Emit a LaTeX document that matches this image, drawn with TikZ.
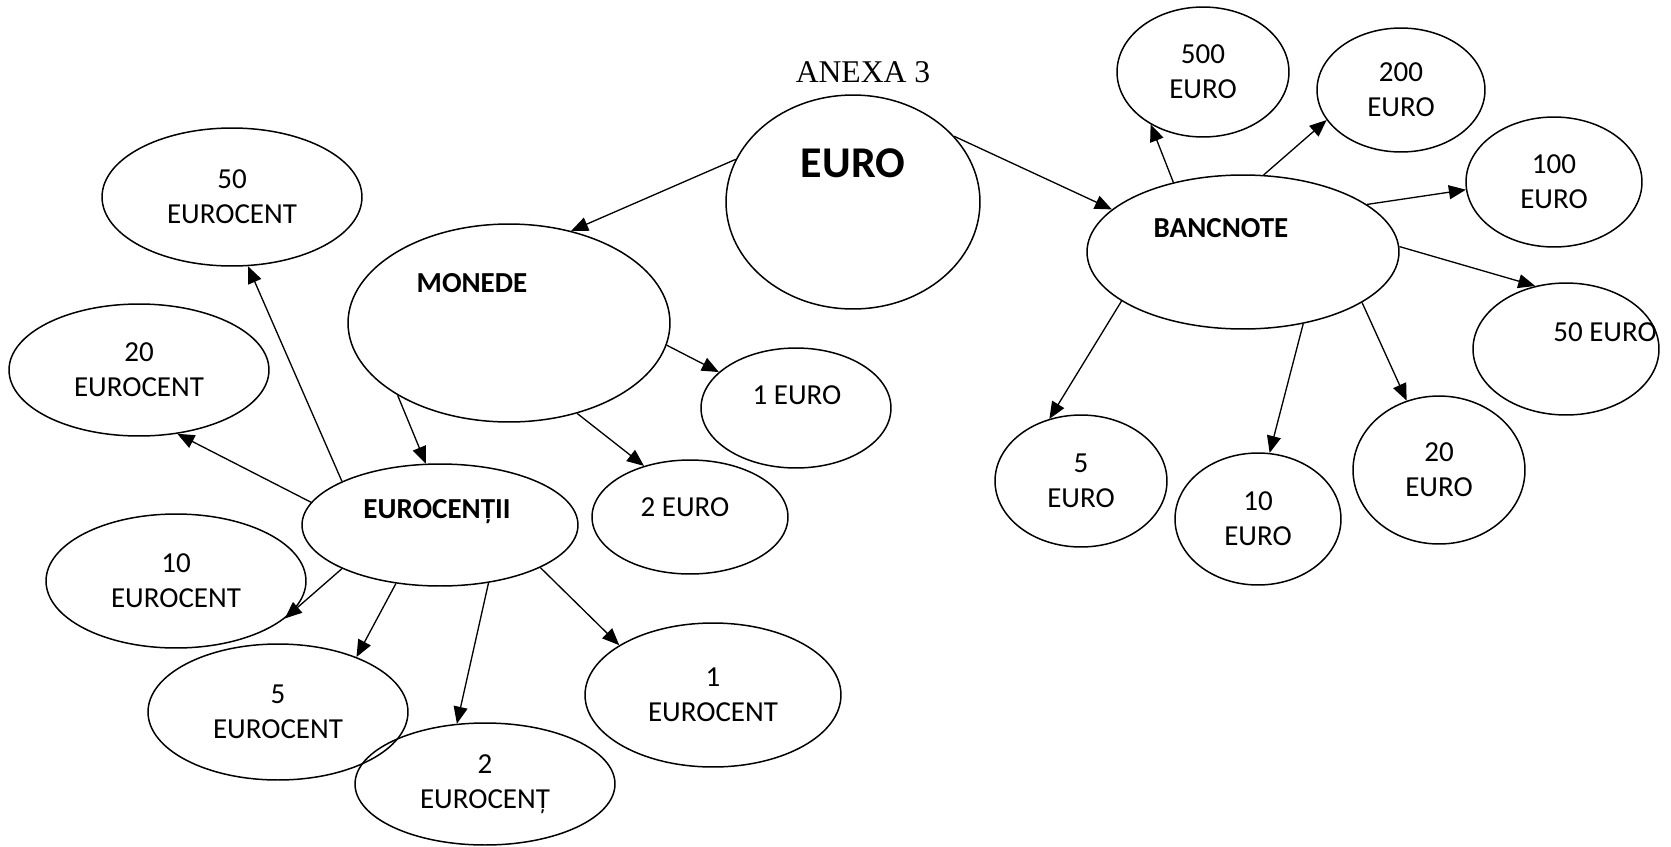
\documentclass[tikz,border=0pt]{standalone}
\usepackage{fontspec}
\setmainfont{Carlito}
\newfontfamily\anexafont{Liberation Serif}
\usetikzlibrary{shapes.geometric,arrows.meta}
\tikzset{
  oval/.style={draw, ellipse, line width=0.85pt, inner sep=0pt, align=center,
    font=\fontsize{16.5}{20}\selectfont},
  txt/.style={inner sep=0pt, font=\fontsize{16.5}{20}\selectfont},
  head/.style={inner sep=0pt, font=\fontsize{16.5}{20}\selectfont\bfseries},
}
\begin{document}
\begin{tikzpicture}[x=0.02cm, y=-0.02cm]
  \useasboundingbox (0,0) rectangle (1671,846);
  \node[inner sep=0pt, font=\anexafont\fontsize{18}{22}\selectfont] (anexa) at (863,72) {ANEXA 3};
  % centre
  \node[oval, minimum width=5.08cm, minimum height=4.28cm] (euro) at (853,202) {};
  \node[inner sep=0pt, font=\fontsize{25}{30}\selectfont\bfseries] (eurotxt) at (853,163) {EURO};
  \node[oval, minimum width=6.44cm, minimum height=3.96cm] (monede) at (509,323) {};
  \node[head] (monedetxt) at (472,283) {MONEDE};
  \node[oval, minimum width=6.24cm, minimum height=3.08cm] (bancnote) at (1243,252) {};
  \node[head] (bancnotetxt) at (1221,228) {BANCNOTE};
  \node[oval, minimum width=5.52cm, minimum height=2.44cm] (eurocentii) at (440,525) {};
  \node[head] (eurocentiitxt) at (437,512) {EUROCENȚII};
  % monede
  \node[oval, minimum width=3.8cm, minimum height=2.4cm] (m1) at (796,408) {};
  \node[txt] (m1txt) at (797,395) {1 EURO};
  \node[oval, minimum width=3.92cm, minimum height=2.28cm] (m2) at (690,517) {};
  \node[txt] (m2txt) at (685,507) {2 EURO};
  % eurocenti
  \node[oval, minimum width=5.2cm, minimum height=2.76cm] (c50) at (232,197) {50\\EUROCENT};
  \node[oval, minimum width=5.2cm, minimum height=2.64cm] (c20) at (139,370) {20\\EUROCENT};
  \node[oval, minimum width=5.2cm, minimum height=2.68cm] (c10) at (176,581) {10\\EUROCENT};
  \node[oval, minimum width=5.2cm, minimum height=2.72cm] (c5) at (278,712) {5\\EUROCENT};
  \node[oval, minimum width=5.2cm, minimum height=2.44cm] (c2) at (485,784) {2\\EUROCENȚ};
  \node[oval, minimum width=5.12cm, minimum height=2.88cm] (c1) at (713,695) {1\\EUROCENT};
  % bancnote
  \node[oval, minimum width=3.44cm, minimum height=2.6cm] (b500) at (1203,72) {500\\EURO};
  \node[oval, minimum width=3.36cm, minimum height=2.48cm] (b200) at (1401,90) {200\\EURO};
  \node[oval, minimum width=3.52cm, minimum height=2.6cm] (b100) at (1554,182) {100\\EURO};
  \node[oval, minimum width=3.72cm, minimum height=2.64cm] (b50) at (1566,349) {};
  \node[txt] (b50txt) at (1605,332) {50 EURO};
  \node[oval, minimum width=3.44cm, minimum height=2.64cm] (b5) at (1081,481) {5\\EURO};
  \node[oval, minimum width=3.32cm, minimum height=2.64cm] (b10) at (1258,519) {10\\EURO};
  \node[oval, minimum width=3.44cm, minimum height=2.96cm] (b20) at (1439,470) {20\\EURO};
  \begin{scope}[-{Triangle[length=0.34cm,width=0.28cm]}, line width=0.75pt]
    \draw (euro.160) to (monede.56);
    \draw (euro.33) to (bancnote.162);
    \draw (monede.352) to (m1.155);
    \draw (monede.307) to (m2.132);
    \draw (monede.213) to (eurocentii.103);
    \draw (eurocentii.156) to (c50.283);
    \draw (eurocentii.170) to (c20.301);
    \draw (eurocentii.204) to (c10.341);
    \draw (eurocentii.233) to (c5.35);
    \draw (eurocentii.310) to (c2.115);
    \draw (eurocentii.337) to (c1.152);
    \draw (bancnote.135) to (b500.225);
    \draw (bancnote.75) to (b200.202);
    \draw (bancnote.21) to (b100.185);
    \draw (bancnote.2) to (b50.116);
    \draw (bancnote.202) to (b5.117);
    \draw (bancnote.310) to (b10.80);
    \draw (bancnote.337) to (b20.115);
  \end{scope}
\end{tikzpicture}
\end{document}
